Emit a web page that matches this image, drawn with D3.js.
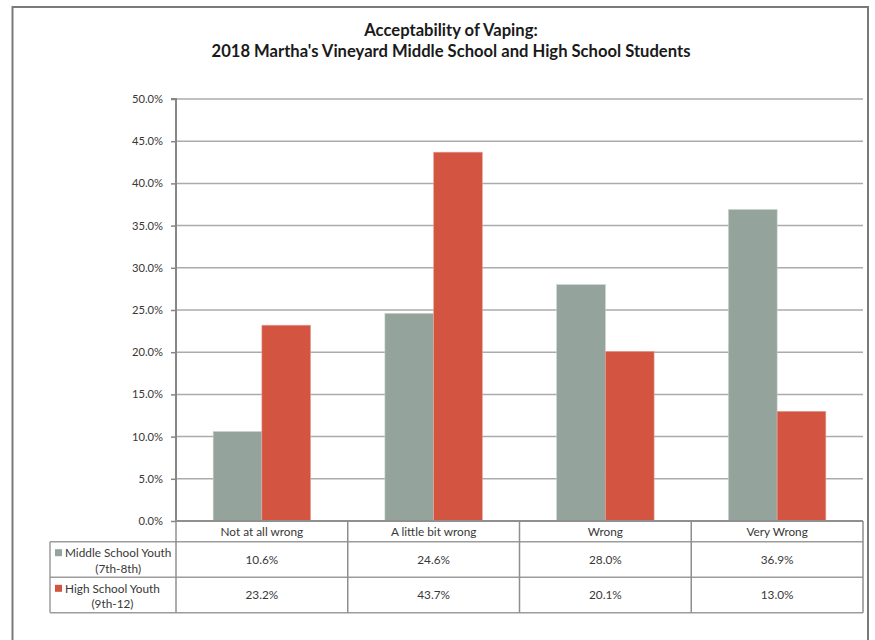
<!DOCTYPE html>
<html>
<head>
<meta charset="utf-8">
<script src="https://cdn.jsdelivr.net/npm/d3@7"></script>
<style>
  html, body { margin: 0; padding: 0; background: #fff; }
  svg { display: block; }
  text { font-family: Lato, "Open Sans", sans-serif; fill: #383838; }
</style>
</head>
<body>
<svg id="chart" width="875" height="640"></svg>
<script>
const categories = ["Not at all wrong", "A little bit wrong", "Wrong", "Very Wrong"];
const seriesNames = ["Middle School Youth", "High School Youth"];
const seriesSub = ["(7th-8th)", "(9th-12)"];
const middleSchool = [0.106, 0.246, 0.280, 0.369];
const highSchool = [0.232, 0.437, 0.201, 0.130];
const yTicks = [0, 0.05, 0.10, 0.15, 0.20, 0.25, 0.30, 0.35, 0.40, 0.45, 0.50];
const titleLines = ["Acceptability of Vaping:", "2018 Martha's Vineyard Middle School and High School Students"];
const colors = ["#94A39B", "#D25441"];

(function () {
const seriesValues = [middleSchool, highSchool];

const svg = d3.select("#chart");

// outer frame
svg.append("path")
  .attr("d", "M12.5,640 L12.5,7 L868,7 L868,640")
  .attr("fill", "none").attr("stroke", "#7a7a7a").attr("stroke-width", 2);

// title
svg.append("text").attr("x", 451).attr("y", 36).attr("text-anchor", "middle")
  .style("font-weight", "bold").style("font-size", "16.6px").style("fill", "#1a1a1a")
  .text(titleLines[0]);
svg.append("text").attr("x", 451).attr("y", 57).attr("text-anchor", "middle")
  .style("font-weight", "bold").style("font-size", "16.6px").style("fill", "#1a1a1a")
  .text(titleLines[1]);

const pl = 176, pr = 863, pt = 99, pb = 521;

const y = d3.scaleLinear().domain([0, 0.5]).range([pb, pt]);
const x0 = d3.scaleBand().domain(categories).range([pl, pr]).paddingInner(0).paddingOuter(0);
const x1 = d3.scaleBand().domain(d3.range(seriesNames.length)).range([0, x0.bandwidth()])
  .paddingInner(0).paddingOuter(0.763);

// gridlines
svg.append("g").selectAll("line").data(yTicks.filter(d => d > 0)).join("line")
  .attr("x1", pl).attr("x2", pr)
  .attr("y1", d => y(d)).attr("y2", d => y(d))
  .attr("stroke", "#ababab").attr("stroke-width", 1.5);

// bars
const groups = svg.append("g").selectAll("g").data(categories).join("g")
  .attr("transform", d => `translate(${x0(d)},0)`);
groups.selectAll("rect")
  .data((c, i) => seriesValues.map((vals, s) => ({ s, v: vals[i] })))
  .join("rect")
  .attr("x", d => x1(d.s))
  .attr("width", x1.bandwidth())
  .attr("y", d => y(d.v))
  .attr("height", d => y(0) - y(d.v))
  .attr("fill", d => colors[d.s])
  .attr("stroke", d => d.s === 0 ? "#c9d1cc" : "#e6a498")
  .attr("stroke-width", 0.6);

// y axis
const yAxis = d3.axisLeft(y).tickValues(yTicks).tickFormat(d3.format(".1%")).tickSize(5).tickPadding(8);
const ag = svg.append("g").attr("transform", `translate(${pl},0)`).call(yAxis);
ag.select(".domain").attr("stroke", "#868686").attr("stroke-width", 2).attr("d", `M-5,${pt}H0V${pb}`);
ag.selectAll(".tick line").attr("stroke", "#868686").attr("stroke-width", 1.5);
ag.selectAll(".tick text").style("font-size", "11.2px").style("fill", "#383838")
  .style("font-family", "Lato, sans-serif");

// data table
const headerBottom = 541.7, row1Bottom = 577.3, row2Bottom = 612.7;
const tableLeft = 50;
const fs = "11.8px";
const tg = svg.append("g");
const lineColor = "#8f8f8f";
tg.append("line").attr("x1", pl).attr("x2", pr).attr("y1", pb).attr("y2", pb)
  .attr("stroke", lineColor).attr("stroke-width", 2);
[headerBottom, row1Bottom, row2Bottom].forEach(yy => {
  tg.append("line").attr("x1", tableLeft).attr("x2", pr).attr("y1", yy).attr("y2", yy)
    .attr("stroke", "#9c9c9c").attr("stroke-width", 1.5);
});
tg.append("line").attr("x1", tableLeft).attr("x2", tableLeft).attr("y1", headerBottom).attr("y2", row2Bottom)
  .attr("stroke", "#9c9c9c").attr("stroke-width", 1.5);
categories.forEach(c => {
  tg.append("line").attr("x1", x0(c)).attr("x2", x0(c))
    .attr("y1", pb).attr("y2", row2Bottom)
    .attr("stroke", lineColor).attr("stroke-width", 1.5);
});
tg.append("line").attr("x1", pr).attr("x2", pr).attr("y1", pb).attr("y2", row2Bottom)
  .attr("stroke", lineColor).attr("stroke-width", 1.5);

// header labels
tg.selectAll("text.cat").data(categories).join("text").attr("class", "cat")
  .attr("x", d => x0(d) + x0.bandwidth() / 2).attr("y", 535.8)
  .attr("text-anchor", "middle").style("font-size", fs).text(d => d);

// rows
const rowTops = [headerBottom, row1Bottom];
const rowHeights = [row1Bottom - headerBottom, row2Bottom - row1Bottom];
seriesNames.forEach((name, s) => {
  const rt = rowTops[s];
  const rh = rowHeights[s];
  tg.append("rect").attr("x", 55).attr("y", rt + 7.5).attr("width", 7).attr("height", 7)
    .attr("fill", colors[s]);
  const tx = 65;
  const t1 = tg.append("text").attr("x", tx).attr("y", rt + 15.5).style("font-size", fs).text(name);
  const w = t1.node().getComputedTextLength();
  tg.append("text").attr("x", tx + w / 2).attr("y", rt + 31).attr("text-anchor", "middle")
    .style("font-size", fs).text(seriesSub[s]);
  tg.selectAll(null).data(seriesValues[s]).join("text")
    .attr("x", (d, i) => x0(categories[i]) + x0.bandwidth() / 2)
    .attr("y", rt + rh / 2 + 4.3)
    .attr("text-anchor", "middle").style("font-size", fs)
    .text(d => d3.format(".1%")(d));
});
})();
</script>
</body>
</html>
